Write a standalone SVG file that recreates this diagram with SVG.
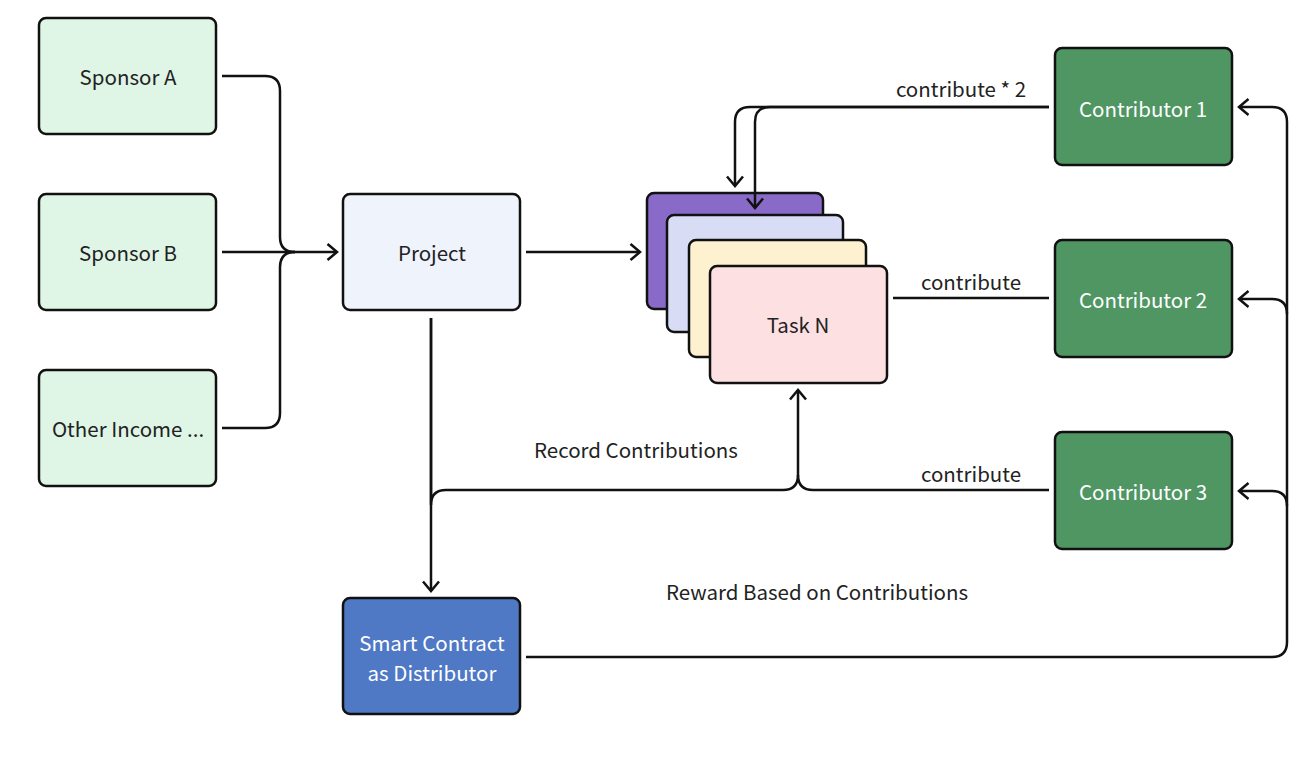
<svg xmlns="http://www.w3.org/2000/svg" width="1314" height="764" viewBox="0 0 1314 764">
<style>
.box{stroke:#111;stroke-width:2.5}
.lbl{font-family:"Noto Sans CJK SC","Noto Sans",sans-serif;font-size:20.5px;text-anchor:middle;dominant-baseline:central;fill:#222}
.wl{fill:#fff}
.ln{fill:none;stroke:#111;stroke-width:2.5}
.ar{marker-end:url(#arr)}
</style>
<defs>
<marker id="arr" markerUnits="userSpaceOnUse" markerWidth="16" markerHeight="20" refX="11" refY="9" orient="auto">
<path d="M1.5,1 L11,9 L1.5,17" fill="none" stroke="#111" stroke-width="2.5"/>
</marker>
</defs>
<rect width="1314" height="764" fill="#fff"/>
<g id="sponsor-a"><rect class="box" x="39" y="18" width="177" height="116" rx="7" fill="#dff5e6"/><text class="lbl" x="128" y="76">Sponsor A</text></g>
<g id="sponsor-b"><rect class="box" x="39" y="194" width="177" height="116" rx="7" fill="#dff5e6"/><text class="lbl" x="128" y="252">Sponsor B</text></g>
<g id="other-income"><rect class="box" x="39" y="370" width="177" height="116" rx="7" fill="#dff5e6"/><text class="lbl" x="128" y="428">Other Income ...</text></g>
<g id="project"><rect class="box" x="343" y="194" width="177" height="116" rx="7" fill="#eef3fc"/><text class="lbl" x="432" y="252">Project</text></g>
<g id="smart-contract"><rect class="box" x="343" y="598" width="177" height="116" rx="7" fill="#4f78c5"/><text class="lbl wl" x="432" y="642">Smart Contract</text><text class="lbl wl" x="432" y="672">as Distributor</text></g>
<g id="task-1"><rect class="box" x="647" y="193" width="176" height="116" rx="7" fill="#8a6ac8"/></g>
<g id="task-2"><rect class="box" x="667" y="215" width="176" height="117" rx="7" fill="#d8dcf5"/></g>
<g id="task-3"><rect class="box" x="689" y="240" width="177" height="117" rx="7" fill="#fdf1cf"/></g>
<g id="task-n"><rect class="box" x="710" y="266" width="177" height="117" rx="7" fill="#fde0e2"/><text class="lbl" x="798" y="324">Task N</text></g>
<g id="contributor-1"><rect class="box" x="1055" y="48" width="177" height="117" rx="7" fill="#4f9663"/><text class="lbl wl" x="1143" y="108">Contributor 1</text></g>
<g id="contributor-2"><rect class="box" x="1055" y="240" width="177" height="117" rx="7" fill="#4f9663"/><text class="lbl wl" x="1143" y="299">Contributor 2</text></g>
<g id="contributor-3"><rect class="box" x="1055" y="432" width="177" height="117" rx="7" fill="#4f9663"/><text class="lbl wl" x="1143" y="491">Contributor 3</text></g>
<g id="connectors">
<path class="ln" d="M222,76 H265 Q280,76 280,91 V237 Q280,252 295,252"/>
<path class="ln" d="M222,428 H265 Q280,428 280,413 V267 Q280,252 295,252"/>
<path class="ln ar" d="M222,252 H337"/>
<path class="ln ar" d="M526,252 H640"/>
<path class="ln ar" d="M1049,107 H750 Q735,107 735,122 V186"/>
<path class="ln ar" d="M1049,107 H770 Q755,107 755,122 V208"/>
<path class="ln" d="M893,298 H1049"/>
<path class="ln ar" d="M1049,490 H813 Q798,490 798,475 V390"/>
<path class="ln" d="M431,318 V505 Q431,490 446,490 H783 Q798,490 798,475"/>
<path class="ln ar" d="M431,318 V591"/>
<path class="ln" d="M526,657 H1272 Q1287,657 1287,642 V122 Q1287,107 1272,107"/>
<path class="ln ar" d="M1272,107 H1239"/>
<path class="ln ar" d="M1287,314 Q1287,299 1272,299 H1239"/>
<path class="ln ar" d="M1287,506 Q1287,491 1272,491 H1239"/>
<text class="lbl" x="961" y="88">contribute * 2</text>
<text class="lbl" x="971" y="281">contribute</text>
<text class="lbl" x="971" y="473">contribute</text>
<text class="lbl" x="636" y="449">Record Contributions</text>
<text class="lbl" x="817" y="591">Reward Based on Contributions</text>
</g>
</svg>
